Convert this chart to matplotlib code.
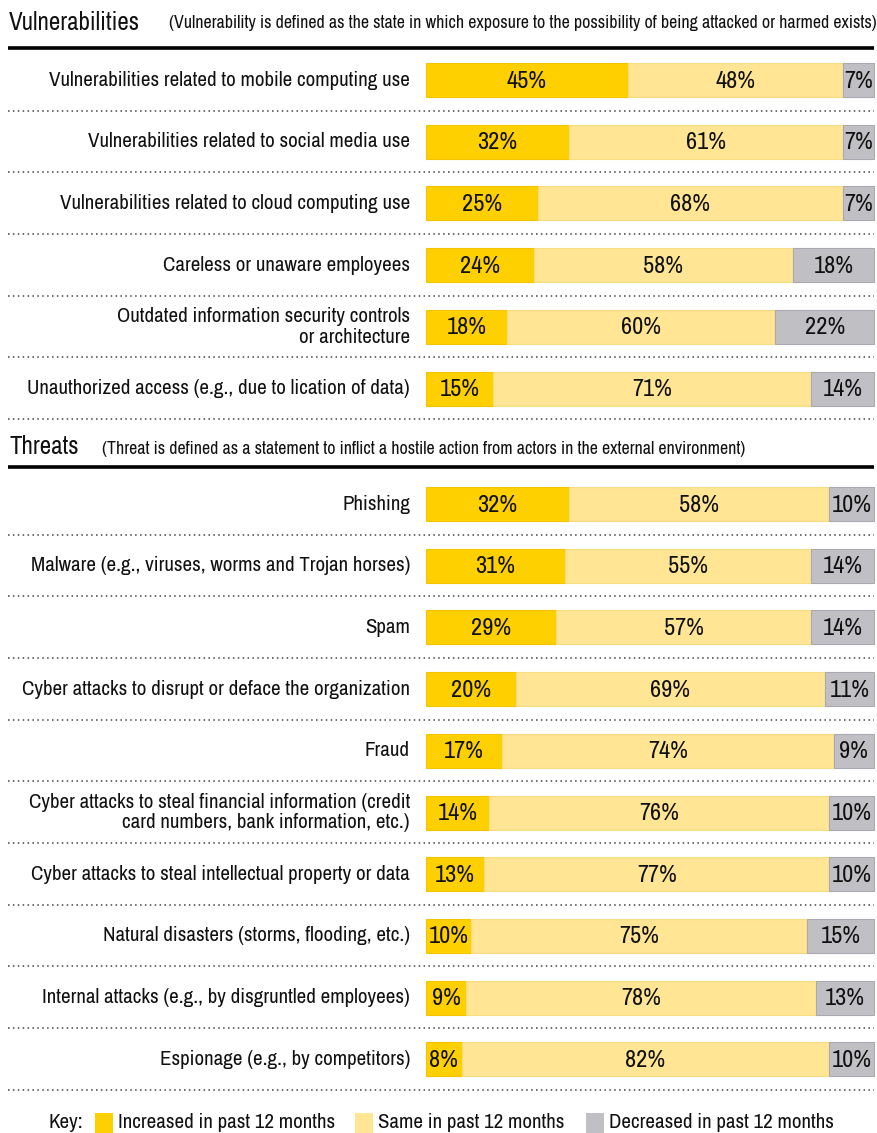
import matplotlib
matplotlib.use("Agg")
import matplotlib.pyplot as plt
import numpy as np

plt.rcParams['font.family'] = ['Archivo Narrow', 'DejaVu Sans']

vuln_labels = [
    "Vulnerabilities related to mobile computing use",
    "Vulnerabilities related to social media use",
    "Vulnerabilities related to cloud computing use",
    "Careless or unaware employees",
    "Outdated information security controls\nor architecture",
    "Unauthorized access (e.g., due to lication of data)",
]
vuln_inc = [45, 32, 25, 24, 18, 15]
vuln_same = [48, 61, 68, 58, 60, 71]
vuln_dec = [7, 7, 7, 18, 22, 14]

threat_labels = [
    "Phishing",
    "Malware (e.g., viruses, worms and Trojan horses)",
    "Spam",
    "Cyber attacks to disrupt or deface the organization",
    "Fraud",
    "Cyber attacks to steal financial information (credit\ncard numbers, bank information, etc.)",
    "Cyber attacks to steal intellectual property or data",
    "Natural disasters (storms, flooding, etc.)",
    "Internal attacks (e.g., by disgruntled employees)",
    "Espionage (e.g., by competitors)",
]
threat_inc = [32, 31, 29, 20, 17, 14, 13, 10, 9, 8]
threat_same = [58, 55, 57, 69, 74, 76, 77, 75, 78, 82]
threat_dec = [10, 14, 14, 11, 9, 10, 10, 15, 13, 10]

key_labels = ["Increased in past 12 months", "Same in past 12 months", "Decreased in past 12 months"]

C_INC = "#FFD000"
C_SAME = "#FFE594"
C_DEC = "#C0C0C4"

W, H = 877, 1133
fig = plt.figure(figsize=(W / 100, H / 100), dpi=100)
ax = fig.add_axes([0, 0, 1, 1])
# map 0% -> px 426, 100% -> px 874
X0, PX = 426, 4.48
ax.set_xlim(-X0 / PX, (W - X0) / PX)
ax.set_ylim(H, 0)
ax.axis("off")

def px(x):
    return (x - X0) / PX

LEFT, RIGHT = px(8), 100
LBL = 15.1
NUM = 17.5

def section(y_first, labels, inc, same, dec):
    n = len(labels)
    step = 61.7
    ys = y_first + np.arange(n) * step
    bh = 34
    inc = np.array(inc); same = np.array(same); dec = np.array(dec)
    ax.barh(ys, inc, height=bh, color=C_INC, edgecolor="#F5C400", linewidth=0.8)
    ax.barh(ys, same, left=inc, height=bh, color=C_SAME, edgecolor="#F7DC80", linewidth=0.8)
    ax.barh(ys, dec, left=inc + same, height=bh, color=C_DEC, edgecolor="#A9A9B4", linewidth=0.8)
    for i, y in enumerate(ys):
        ax.text(px(410), y, labels[i], ha="right", va="center", fontsize=LBL,
                color="#111111", linespacing=1.1)
        for left, v in ((0, inc[i]), (inc[i], same[i]), (inc[i] + same[i], dec[i])):
            ax.text(left + v / 2, y + 1, f"{v}%", ha="center", va="center",
                    fontsize=NUM, color="#111111")
        ax.plot([LEFT, RIGHT], [y + 30.5, y + 30.5], color="#444444", lw=1.1,
                linestyle=(0, (1, 2.2)))
    return ys

# headers
ax.text(px(9), 22, "Vulnerabilities", ha="left", va="center", fontsize=18, color="#111111")
ax.text(px(169), 23, "(Vulnerability is defined as the state in which exposure to the possibility of being attacked or harmed exists)",
        ha="left", va="center", fontsize=12.9, color="#111111")
ax.plot([LEFT, RIGHT], [48, 48], color="black", lw=2.6, solid_capstyle="butt")
section(80, vuln_labels, vuln_inc, vuln_same, vuln_dec)

ax.text(px(9), 447, "Threats", ha="left", va="center", fontsize=18, color="#111111")
ax.text(px(102), 449, "(Threat is defined as a statement to inflict a hostile action from actors in the external environment)",
        ha="left", va="center", fontsize=12.9, color="#111111")
ax.plot([LEFT, RIGHT], [467, 467], color="black", lw=2.6, solid_capstyle="butt")
section(504, threat_labels, threat_inc, threat_same, threat_dec)

# key
ky = 1123
ax.text(px(48), ky, "Key:", ha="left", va="center", fontsize=LBL, color="#111111")
for (sx, tx), c, lab in zip([(95, 118), (355, 378), (586, 609)], [C_INC, C_SAME, C_DEC], key_labels):
    ax.barh([ky], [18 / PX], left=px(sx), height=20, color=c)
    ax.text(px(tx), ky, lab, ha="left", va="center", fontsize=LBL, color="#111111")

fig.savefig("out.png", dpi=100, facecolor="white")
